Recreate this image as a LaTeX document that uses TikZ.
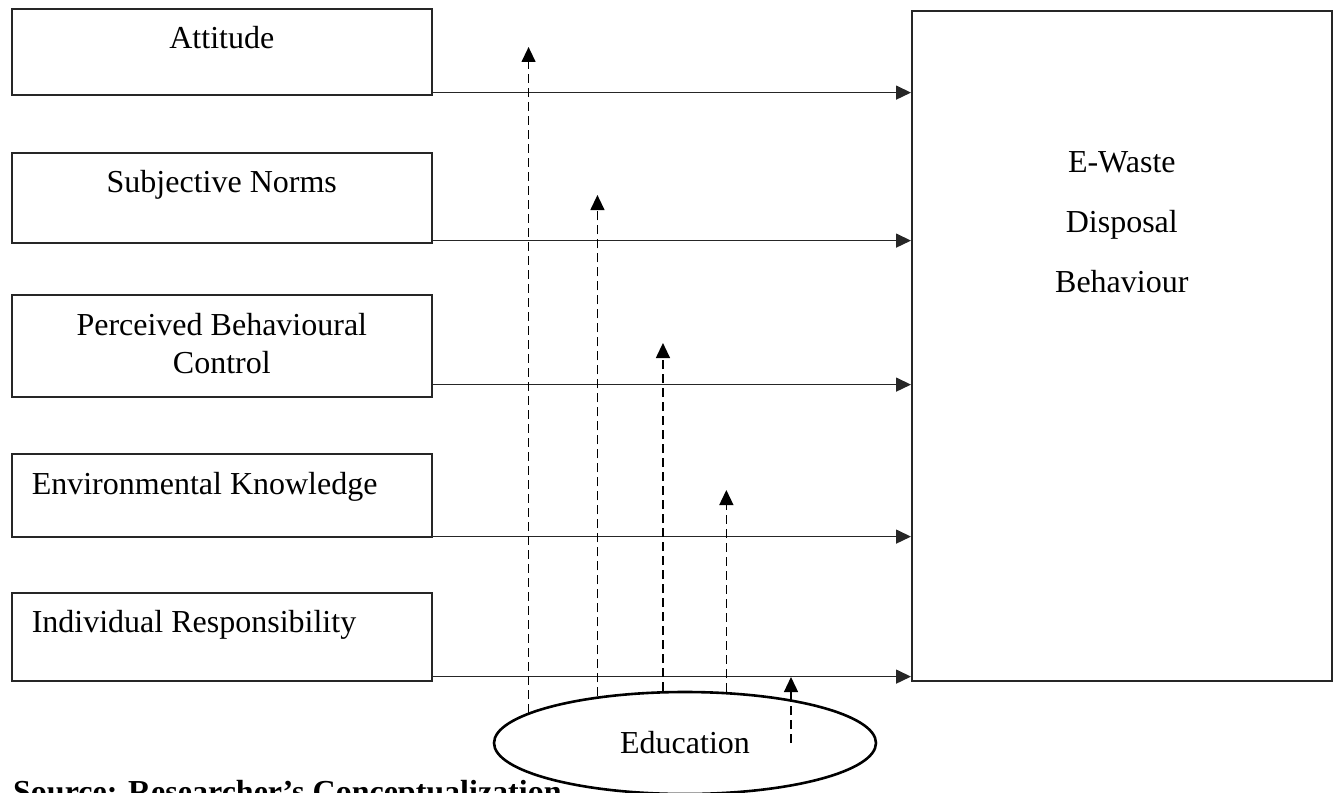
\documentclass[tikz,border=0pt]{standalone}
\usepackage{fontspec}
\setmainfont{Liberation Serif}
\usetikzlibrary{arrows.meta,shapes.geometric}

\begin{document}
\begin{tikzpicture}[x=1pt, y=-1pt,
  box/.style={draw=black!85, line width=1.6pt, rectangle, inner sep=0pt, minimum width=420pt, anchor=north west, font=\fontsize{32}{38}\selectfont},
  link/.style={draw=black!85, line width=1.5pt, -{Triangle[length=15pt,width=14pt]}},
  moder/.style={line width=1.3pt, dash pattern=on 9pt off 5pt, -{Triangle[length=15pt,width=14pt]}}]
\path[use as bounding box, clip] (0,0) rectangle (1335,792);

% caption, partly cut off at the bottom
\node[anchor=base west, inner sep=0pt, font=\bfseries\fontsize{32}{38}\selectfont] (src) at (13,802) {Source: Researcher's Conceptualization};

% constructs
\node[box, text height=40pt, text depth=46pt] (att) at (11,8) {Attitude};
\node[box, text height=40pt, text depth=50pt] (sub) at (11,152) {Subjective Norms};
\node[box, align=center, text height=79pt, text depth=23pt] (pbc) at (11,294) {Perceived Behavioural\\Control};
\node[box, align=flush left, text width=380pt, inner xsep=20pt, text height=41pt, text depth=42pt] (env) at (11,453) {Environmental Knowledge};
\node[box, align=flush left, text width=380pt, inner xsep=20pt, text height=40pt, text depth=48pt] (ind) at (11,592) {Individual Responsibility};
\node[box, align=center, font=\fontsize{32}{60}\selectfont, text height=282pt, text depth=388pt] (ewd) at (911,10) {E-Waste\\Disposal\\Behaviour};

% moderator
\node[draw, ellipse, line width=2.6pt, fill=white, minimum width=382pt, minimum height=102pt, inner sep=0pt, font=\fontsize{32}{38}\selectfont] (edu) at (685,743) {Education};

% direct paths
\draw[link] ([yshift=3pt]att.south east) -- ([yshift=3pt]att.south east -| ewd.west);
\draw[link] ([yshift=3pt]sub.south east) -- ([yshift=3pt]sub.south east -| ewd.west);
\draw[link] ([yshift=13pt]pbc.south east) -- ([yshift=13pt]pbc.south east -| ewd.west);
\draw[link] ([yshift=1pt]env.south east) -- ([yshift=1pt]env.south east -| ewd.west);
\draw[link] ([yshift=5pt]ind.south east) -- ([yshift=5pt]ind.south east -| ewd.west);

% moderating paths
\coordinate (t1) at (527,47);
\coordinate (t2) at (596,195);
\coordinate (t3) at (663,343);
\coordinate (t4) at (725,490);
\coordinate (e5) at (791,743);
\coordinate (t5) at (791,677);
\draw[moder] (edu.169.4) -- (edu.169.4 |- t1);
\draw[moder] (edu.152.6) -- (edu.152.6 |- t2);
\draw[moder] (edu.113) -- (edu.113 |- t3);
\draw[moder] (edu.51.8) -- (edu.51.8 |- t4);
\draw[moder] (e5) -- (t5);
\end{tikzpicture}
\end{document}
